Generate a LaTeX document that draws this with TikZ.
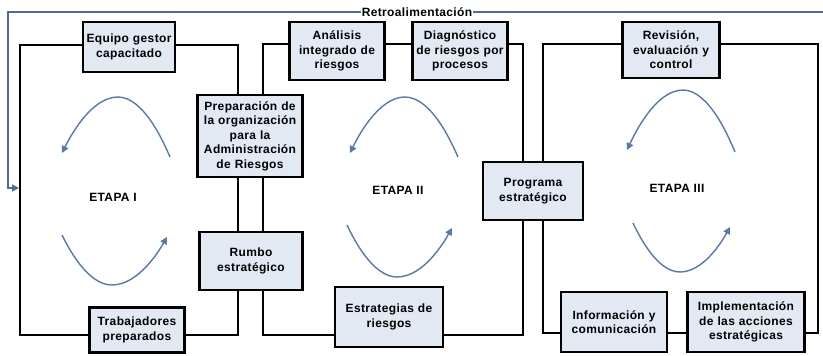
\documentclass[tikz,border=0pt]{standalone}
\usepackage{fontspec}
\setmainfont{Liberation Sans}[LetterSpace=3]
\usetikzlibrary{arrows.meta}
\definecolor{cajafondo}{HTML}{E3E9F3}
\definecolor{retro}{HTML}{4F6C9C}
\definecolor{ciclo}{HTML}{5B77A6}

\tikzset{
  caja/.style={draw=black, line width=2.2pt, fill=cajafondo, align=center,
    inner sep=2pt, font=\bfseries\fontsize{12}{14.5}\selectfont},
  marco/.style={draw=black, line width=2.8pt},
  giro/.style={draw=ciclo, line width=1.4pt, -{Triangle[width=7pt,length=7pt]}},
  etapa/.style={font=\bfseries\fontsize{12}{14}\selectfont}
}

\begin{document}
\begin{tikzpicture}[x=1pt, y=-1pt]
\useasboundingbox (0,0) rectangle (823,356);

% retroalimentacion
\coordinate (retroinicio) at (823,12);
\coordinate (retrofin) at (19,188);
\draw[retro, line width=1.6pt, -{Triangle[width=7pt,length=7pt]}]
  (retroinicio) -| (8,188) -- (retrofin);
\node[fill=white, inner sep=1pt, font=\bfseries\fontsize{12}{14}\selectfont]
  (retro) at (417,12) {Retroalimentación};

% etapas
\draw[marco] (20,45) rectangle (238,335);
\draw[marco] (263,44) rectangle (523,335);
\draw[marco] (543,44) rectangle (818,333);

% ciclos
\draw[giro] (170,157) parabola bend (118,97) (62,153);
\draw[giro] (62,235) parabola bend (112,285) (167,237);
\draw[giro] (458,157) parabola bend (405,97) (350,153);
\draw[giro] (347,225) parabola bend (397,277) (452,228);
\draw[giro] (735,152) parabola bend (683,90) (627,150);
\draw[giro] (633,223) parabola bend (680,272) (730,227);

\node[etapa] (etapa1) at (113,197) {ETAPA I};
\node[etapa] (etapa2) at (398,190) {ETAPA II};
\node[etapa] (etapa3) at (677,188) {ETAPA III};

% cajas
\node[caja, minimum width=92pt, minimum height=50pt, text width=86pt]
  (equipo) at (129,47) {Equipo gestor\\capacitado};
\node[caja, minimum width=105pt, minimum height=82pt, text width=99pt]
  (preparacion) at (250,136) {Preparación de\\la organización\\para la\\Administración\\de Riesgos};
\node[caja, minimum width=103pt, minimum height=58pt, text width=97pt]
  (rumbo) at (251,261) {Rumbo\\estratégico};
\node[caja, minimum width=95pt, minimum height=45pt, text width=89pt]
  (trabajadores) at (137,330) {Trabajadores\\preparados};
\node[caja, minimum width=95pt, minimum height=58pt, text width=89pt]
  (analisis) at (337,51) {Análisis\\integrado de\\riesgos};
\node[caja, minimum width=95pt, minimum height=58pt, text width=89pt]
  (diagnostico) at (460,51) {Diagnóstico\\de riesgos por\\procesos};
\node[caja, minimum width=100pt, minimum height=58pt, text width=94pt]
  (programa) at (533,191) {Programa\\estratégico};
\node[caja, minimum width=108pt, minimum height=60pt, text width=102pt]
  (estrategias) at (389,317) {Estrategias de\\riesgos};
\node[caja, minimum width=97pt, minimum height=56pt, text width=91pt]
  (revision) at (671,50) {Revisión,\\evaluación y\\control};
\node[caja, minimum width=106pt, minimum height=60pt, text width=100pt]
  (informacion) at (614,322) {Información y\\comunicación};
\node[caja, minimum width=117pt, minimum height=60pt, text width=113pt]
  (implementacion) at (746,322) {Implementación\\de las acciones\\estratégicas};

\end{tikzpicture}
\end{document}
